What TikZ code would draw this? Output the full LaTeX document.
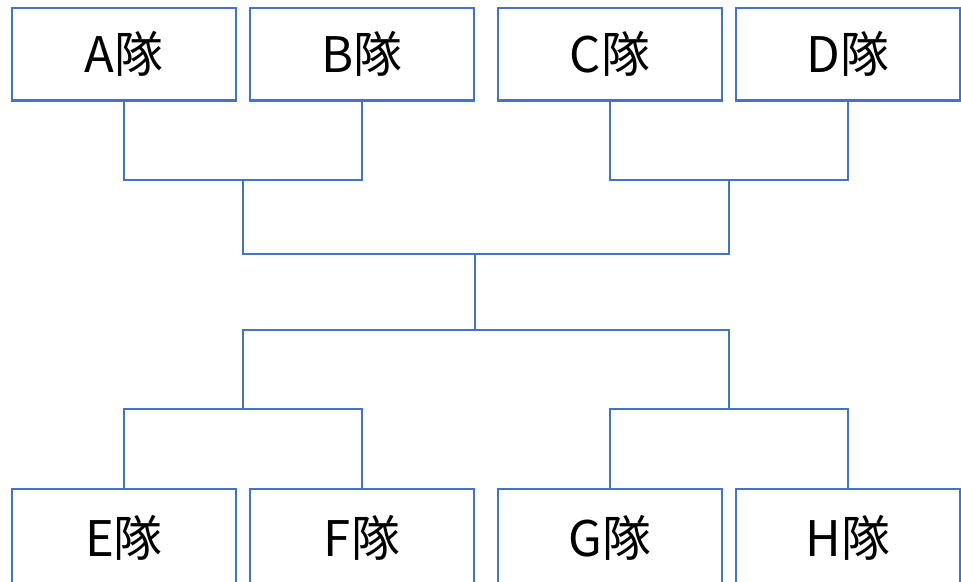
\documentclass[tikz,border=0pt]{standalone}
\usepackage{fontspec}
\newfontfamily\cjkfont{Noto Sans CJK JP}
\definecolor{obl}{HTML}{4472C4}
\tikzset{
  team/.style={draw=obl, line width=2.5pt, fill=white, minimum width=224pt, minimum height=92.5pt, inner sep=0pt, font=\cjkfont\fontsize{49}{49}\selectfont, text=black},
  lowteam/.style={team, minimum height=98pt},
  link/.style={draw=obl, line width=2.5pt}
}
\begin{document}
\begin{tikzpicture}[x=1pt, y=-1pt]
\useasboundingbox (0,0) rectangle (961,581);
\clip (0,0) rectangle (961,581);
\fill[white] (0,0) rectangle (961,581);
\node[team] (A) at (124,54) {A隊};
\node[team] (B) at (362,54) {B隊};
\node[team] (C) at (610,54) {C隊};
\node[team] (D) at (848,54) {D隊};
\node[lowteam] (E) at (124,538) {\raisebox{3pt}{E隊}};
\node[lowteam] (F) at (362,538) {\raisebox{3pt}{F隊}};
\node[lowteam] (G) at (610,538) {\raisebox{3pt}{G隊}};
\node[lowteam] (H) at (848,538) {\raisebox{3pt}{H隊}};
\coordinate (ab) at (243,180);
\coordinate (cd) at (729,180);
\coordinate (top) at (475,254);
\coordinate (bot) at (475,330);
\coordinate (ef) at (243,409);
\coordinate (gh) at (729,409);
\draw[link] (A.south) |- (ab) -| (B.south);
\draw[link] (C.south) |- (cd) -| (D.south);
\draw[link] (ab) |- (top) -| (cd);
\draw[link] (top) -- (bot);
\draw[link] (ef) |- (bot) -| (gh);
\draw[link] (E.north) |- (ef) -| (F.north);
\draw[link] (G.north) |- (gh) -| (H.north);
\end{tikzpicture}
\end{document}
